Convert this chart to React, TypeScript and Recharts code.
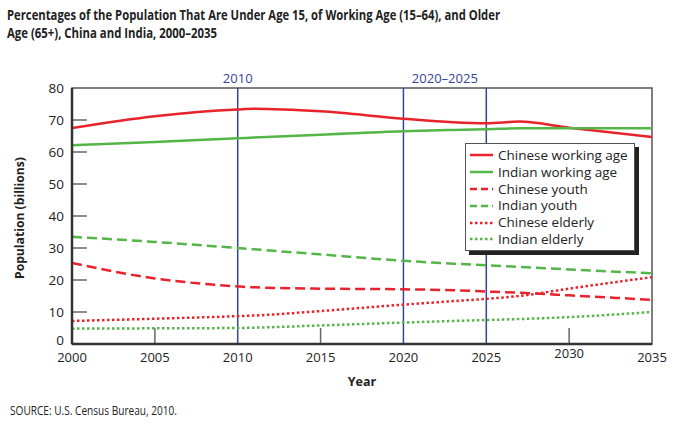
import React from 'react';
import { LineChart, Line, XAxis, YAxis, ReferenceLine, ReferenceArea, Legend } from 'recharts';

const years = [2000, 2005, 2010, 2011, 2015, 2020, 2023, 2025, 2027, 2030, 2035];
const chineseWorking = [67.5, 71.2, 73.3, 73.5, 72.7, 70.4, 69.3, 69.0, 69.5, 67.6, 64.7];
const indianWorking = [62.1, 63.1, 64.3, 64.5, 65.4, 66.5, 66.9, 67.1, 67.4, 67.4, 67.4];
const chineseYouth = [25.3, 20.5, 18.0, 17.7, 17.3, 17.1, 16.8, 16.4, 16.0, 15.2, 13.8];
const indianYouth = [33.5, 31.9, 30.0, 29.6, 28.0, 26.0, 25.1, 24.6, 24.1, 23.3, 22.1];
const chineseElderly = [7.2, 7.9, 8.7, 8.9, 10.3, 12.3, 13.4, 14.1, 15.0, 17.3, 20.9];
const indianElderly = [4.8, 4.9, 5.0, 5.1, 5.8, 6.7, 7.2, 7.5, 7.8, 8.4, 10.0];

const xTicks = [2000, 2005, 2010, 2015, 2020, 2025, 2030, 2035];
const yTicks = [0, 10, 20, 30, 40, 50, 60, 70, 80];
const innerYTicks = [10, 20, 30, 40, 50, 60, 70];
const innerXTicks = [2005, 2015, 2030];
const markerYears = [2010, 2020, 2025];

const RED = '#e8232b';
const GREEN = '#55b648';
const BLUE = '#34449a';
const FONT = '"Open Sans", "Noto Sans", sans-serif';

const seriesDefs = [
  { key: 'cw', name: 'Chinese working age', color: RED, dash: undefined as string | undefined },
  { key: 'iw', name: 'Indian working age', color: GREEN, dash: undefined as string | undefined },
  { key: 'cy', name: 'Chinese youth', color: RED, dash: '10 5' },
  { key: 'iy', name: 'Indian youth', color: GREEN, dash: '10 5' },
  { key: 'ce', name: 'Chinese elderly', color: RED, dash: '2.5 2.5' },
  { key: 'ie', name: 'Indian elderly', color: GREEN, dash: '2.5 2.5' },
];

const data = years.map((year, i) => ({
  year,
  cw: chineseWorking[i],
  iw: indianWorking[i],
  cy: chineseYouth[i],
  iy: indianYouth[i],
  ce: chineseElderly[i],
  ie: indianElderly[i],
}));

const XTick = (props: any) => {
  const { x, y, payload } = props;
  const raised = payload.value === 2030 ? -4 : 0;
  return (
    <text x={x} y={y + 18 + raised} textAnchor="middle" fontSize={13} fontFamily={FONT} fill="#222">
      {payload.value}
    </text>
  );
};

const YTick = (props: any) => {
  const { x, y, payload } = props;
  return (
    <text x={x - 8} y={y + (payload.value === 0 ? 1 : 5)} textAnchor="end" fontSize={13.5} fontFamily={FONT} fill="#222">
      {payload.value}
    </text>
  );
};

const LegendContent = () => (
  <div
    style={{
      width: 170,
      height: 108,
      border: '1.5px solid #555',
      boxShadow: '4px 4px 0 #222',
      background: '#fff',
      padding: '3px 0 0 3px',
      boxSizing: 'border-box',
      fontFamily: FONT,
      fontSize: 13.5,
      color: '#222',
    }}
  >
    {seriesDefs.map((s) => (
      <div key={s.key} style={{ display: 'flex', alignItems: 'center', height: 16.8, lineHeight: '16.8px' }}>
        <svg width={29} height={10} style={{ flex: 'none' }}>
          <line x1={1} y1={5} x2={24} y2={5} stroke={s.color} strokeWidth={2.5} strokeDasharray={s.dash === '10 5' ? '7 4' : s.dash} />
        </svg>
        <span style={{ whiteSpace: 'nowrap' }}>{s.name}</span>
      </div>
    ))}
  </div>
);

export default function App() {
  return (
    <div style={{ position: 'absolute', left: 0, top: 0, width: 677, height: 425, background: '#fff' }}>
      <LineChart width={677} height={425} data={data} margin={{ top: 88, right: 25, bottom: 0, left: 0 }}>
        <ReferenceArea x1={2000} x2={2035} y1={0} y2={80} fill="none" stroke="#555" strokeWidth={1.5} ifOverflow="visible" />
        {innerYTicks.map((v) => (
          <ReferenceLine key={'yt' + v} segment={[{ x: 2000, y: v }, { x: 2000.9, y: v }]} stroke="#666" strokeWidth={1.5} />
        ))}
        {innerXTicks.map((v) => (
          <ReferenceLine key={'xt' + v} segment={[{ x: v, y: 0 }, { x: v, y: 5 }]} stroke="#666" strokeWidth={1.5} />
        ))}
        {markerYears.map((v) => (
          <ReferenceLine
            key={'m' + v}
            x={v}
            stroke={BLUE}
            strokeWidth={1.5}
            label={v === 2010 ? { value: '2010', position: 'top', fill: BLUE, fontSize: 13, fontFamily: FONT, offset: 5 } : undefined}
          />
        ))}
        <ReferenceArea
          x1={2020}
          x2={2025}
          y1={79.9}
          y2={80}
          fill="none"
          stroke="none"
          ifOverflow="visible"
          label={{ value: '2020–2025', position: 'top', fill: BLUE, fontSize: 13, fontFamily: FONT, offset: 5 }}
        />
        <XAxis
          dataKey="year"
          type="number"
          domain={[2000, 2035]}
          ticks={xTicks}
          tick={<XTick />}
          tickLine={false}
          tickSize={0}
          tickMargin={0}
          height={81}
          axisLine={{ stroke: '#333', strokeWidth: 2.5 }}
          allowDataOverflow
        />
        <YAxis
          type="number"
          domain={[0, 80]}
          ticks={yTicks}
          tick={<YTick />}
          tickLine={false}
          tickSize={0}
          tickMargin={0}
          width={72}
          axisLine={{ stroke: '#333', strokeWidth: 2.5 }}
        />
        {seriesDefs.map((s) => (
          <Line
            key={s.key}
            type="monotone"
            dataKey={s.key}
            name={s.name}
            stroke={s.color}
            strokeWidth={2.5}
            strokeDasharray={s.dash}
            dot={false}
            activeDot={false}
            isAnimationActive={false}
          />
        ))}
        <Legend
          content={<LegendContent />}
          layout="horizontal"
          verticalAlign="middle"
          align="center"
          wrapperStyle={{ position: 'absolute', left: 465, top: 143, width: 174, height: 112 }}
        />
      </LineChart>
      <svg width={677} height={425} style={{ position: 'absolute', left: 0, top: 0, pointerEvents: 'none' }}>
        <text x={7} y={20} fontSize={14.5} fontWeight="bold" fontFamily={FONT} fill="#222" textLength={493} lengthAdjust="spacingAndGlyphs">
          Percentages of the Population That Are Under Age 15, of Working Age (15–64), and Older
        </text>
        <text x={7} y={37.5} fontSize={14.5} fontWeight="bold" fontFamily={FONT} fill="#222" textLength={210} lengthAdjust="spacingAndGlyphs">
          Age (65+), China and India, 2000–2035
        </text>
        <text
          x={0}
          y={0}
          transform="translate(24,218) rotate(-90)"
          textAnchor="middle"
          fontSize={12.5}
          fontWeight="bold"
          fontFamily={FONT}
          fill="#222"
          textLength={122}
          lengthAdjust="spacingAndGlyphs"
        >
          Population (billions)
        </text>
        <text x={362} y={386} textAnchor="middle" fontSize={12.5} fontWeight="bold" fontFamily={FONT} fill="#222">
          Year
        </text>
        <text x={10} y={415} fontSize={13} fontFamily={FONT} fill="#222" textLength={167} lengthAdjust="spacingAndGlyphs">
          SOURCE: U.S. Census Bureau, 2010.
        </text>
      </svg>
    </div>
  );
}
